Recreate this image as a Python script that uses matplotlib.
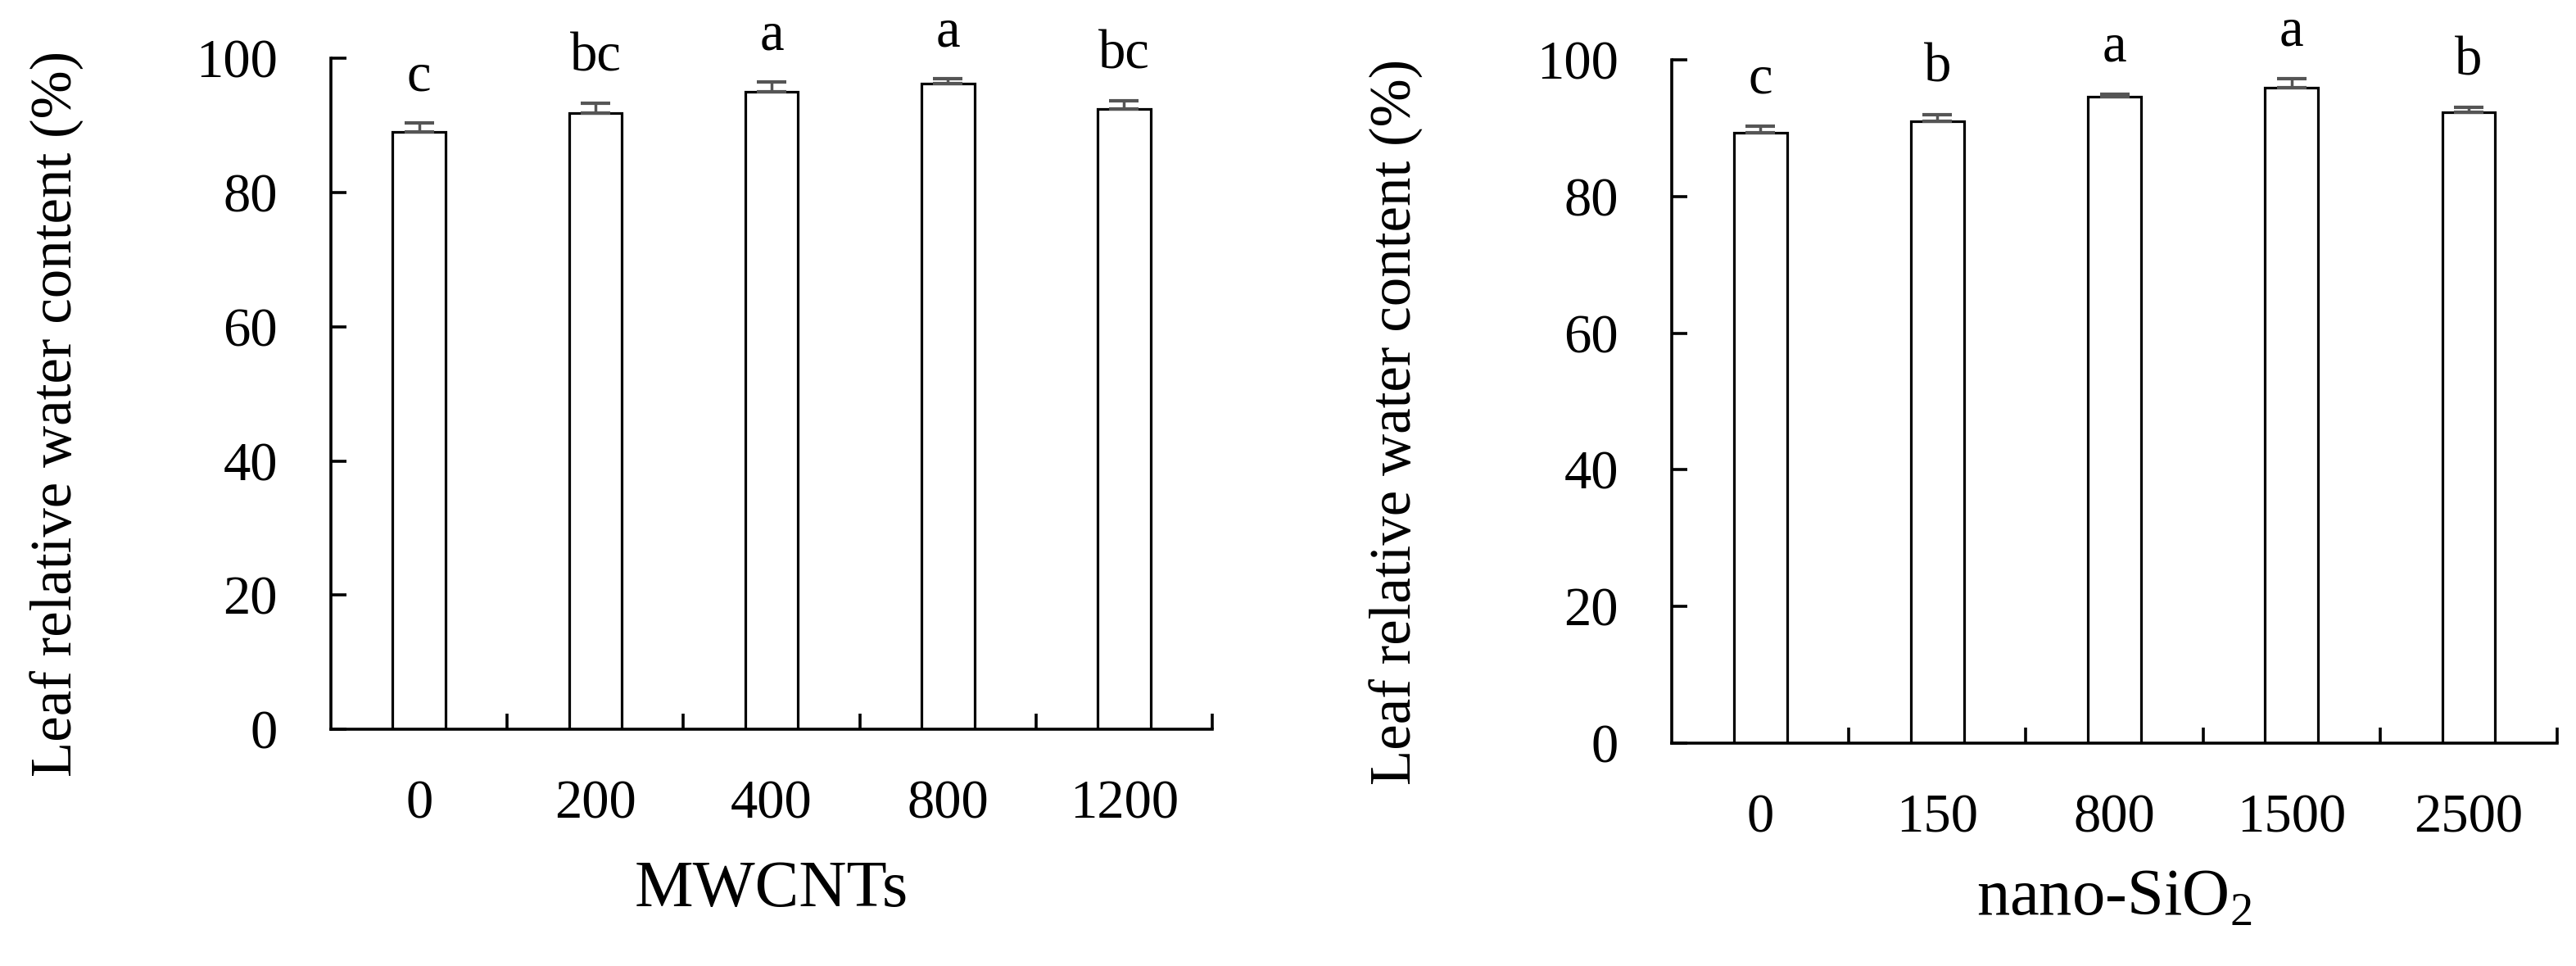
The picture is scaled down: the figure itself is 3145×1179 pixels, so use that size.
import numpy as np
import matplotlib
matplotlib.use("Agg")
import matplotlib.pyplot as plt
from matplotlib.ticker import FixedLocator

plt.rcParams['font.family'] = ['Liberation Serif', 'DejaVu Serif']
plt.rcParams['mathtext.fontset'] = 'custom'
plt.rcParams['mathtext.rm'] = 'Liberation Serif'

# data
mw_labels = ['0', '200', '400', '800', '1200']
mw_values = [89.1, 91.8, 95.0, 96.2, 92.5]
mw_errors = [1.3, 1.5, 1.5, 0.8, 1.2]
mw_letters = ['c', 'bc', 'a', 'a', 'bc']

si_labels = ['0', '150', '800', '1500', '2500']
si_values = [89.3, 91.0, 94.6, 95.9, 92.3]
si_errors = [1.0, 1.0, 0.4, 1.4, 0.7]
si_letters = ['c', 'b', 'a', 'a', 'b']

fig = plt.figure(figsize=(31.45, 11.79), dpi=100)
ax1 = fig.add_axes([0.1285, 0.2450, 0.3421, 0.6945])
ax2 = fig.add_axes([0.6490, 0.2307, 0.3437, 0.7073])


def draw_panel(ax, labels, values, errors, letters, xlabel, xlab_y):
    x = np.arange(len(labels))
    ax.bar(x, values, width=0.3, color='white', edgecolor='black',
           linewidth=2.3, zorder=2)
    ax.errorbar(x, values, yerr=[np.zeros(len(x)), errors], fmt='none',
                ecolor='#555555', elinewidth=2.5, capsize=13, capthick=3,
                zorder=3)
    for xi, v, e, t in zip(x, values, errors, letters):
        ax.text(xi, v + e + 4.8, t, ha='center', va='baseline',
                fontsize=48, clip_on=False)

    ax.set_xlim(-0.5, len(labels) - 0.5)
    ax.set_ylim(0, 100)
    ax.set_yticks([0, 20, 40, 60, 80, 100])
    ax.set_xticks(x)
    ax.set_xticklabels(labels)
    ax.xaxis.set_minor_locator(FixedLocator(x + 0.5))

    for s in ['top', 'right']:
        ax.spines[s].set_visible(False)
    for s in ['left', 'bottom']:
        ax.spines[s].set_linewidth(2.6)

    ax.tick_params(axis='y', direction='in', length=14, width=2.6,
                   labelsize=48, pad=47)
    ax.tick_params(axis='x', which='major', length=0, labelsize=48, pad=44)
    ax.tick_params(axis='x', which='minor', direction='in', length=14,
                   width=2.6)

    ax.set_ylabel('Leaf relative water content (%)', fontsize=51)
    ax.yaxis.set_label_coords(-0.28, 0.47)
    ax.set_xlabel(xlabel, fontsize=58)
    ax.xaxis.set_label_coords(0.5, xlab_y)


draw_panel(ax1, mw_labels, mw_values, mw_errors, mw_letters, 'MWCNTs',
           -0.195)
draw_panel(ax2, si_labels, si_values, si_errors, si_letters,
           r'nano-SiO$_\mathrm{2}$', -0.185)

fig.savefig('out.png', dpi=100)
